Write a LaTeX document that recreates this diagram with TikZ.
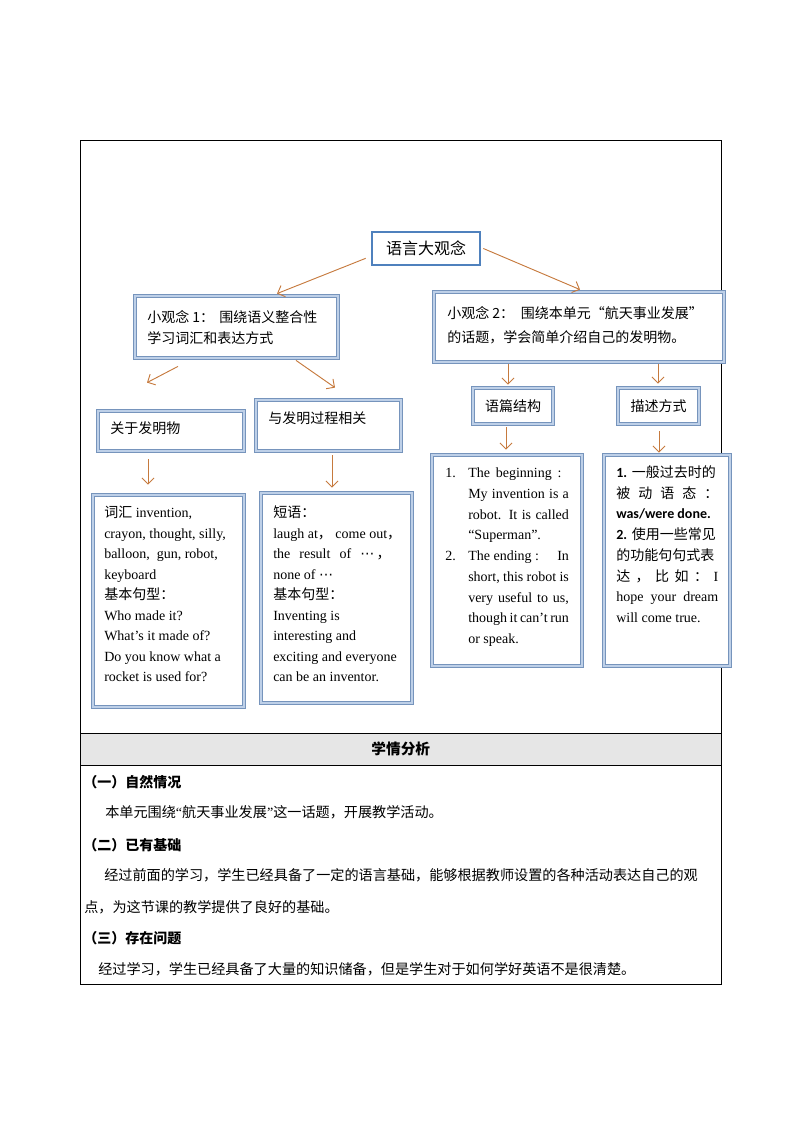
\documentclass[tikz,border=0pt]{standalone}
\usepackage{fontspec}
\setmainfont{Liberation Serif}
\newfontfamily\cjk{Noto Sans CJK SC}
\newfontfamily\calfont{Carlito}
\newfontfamily\djv{DejaVu Sans}
\newcommand\zhc[1]{{\cjk #1}}
\usetikzlibrary{arrows.meta,fit}
\definecolor{arrc}{RGB}{198,122,62}
\definecolor{bbd}{RGB}{118,148,188}
\definecolor{bbi}{RGB}{190,208,232}
\definecolor{tbl}{RGB}{79,129,189}
\definecolor{hdr}{RGB}{230,230,230}
\begin{document}
\begin{tikzpicture}[x=0.75pt,y=-0.75pt,
  dbox/.style={draw=bbd, double=bbi, double distance=1.3pt, line width=0.6pt, fill=white, inner sep=0pt},
  bigbox/.style={draw=tbl, line width=2pt, fill=white, inner sep=0pt},
  arr/.style={draw=arrc, line width=0.7pt, -{Straight Barb[length=4.5pt,width=9pt]}},
  en/.style={font=\fontsize{10.5}{12}\selectfont, anchor=base west, inner sep=0pt},
  zh/.style={font=\fontsize{10.5}{12}\selectfont\cjk, anchor=base west, inner sep=0pt},
  zhc/.style={font=\fontsize{10.5}{12}\selectfont\cjk, anchor=base, inner sep=0pt},
  zhb/.style={font=\fontsize{10.6}{13}\selectfont\cjk, anchor=base west, inner sep=0pt},
  zhh/.style={font=\fontsize{10.5}{12}\selectfont\cjk\bfseries, anchor=base west, inner sep=0pt},
  frame/.style={draw=black, line width=0.75pt}
]
\useasboundingbox (0,0) rectangle (794,1123);
% table frame
\draw[frame] (80,140.5) rectangle (721.5,984);
\node[frame, fill=hdr, fit={(80,733) (721.5,765)}, inner sep=0pt] (hd) {};
\node[zhc, font=\fontsize{11}{13}\selectfont\cjk\bfseries] (hdt) at ([yshift=-4.2pt]hd.center) {学情分析};

% top concept
\node[bigbox, fit={(372,232) (480,265)}] (big) {};
\node[zhc, font=\fontsize{12}{14}\selectfont\cjk] (bigt) at ([yshift=-4.6pt]big.center) {语言大观念};

% sub-concept boxes
\node[dbox, fit={(135,296) (338,358)}] (n1) {};
\node[zh] (n1a) at (147,322) {小观念 1：\hspace{4pt}围绕语义整合性};
\node[zh] (n1b) at (147,343) {学习词汇和表达方式};

\node[dbox, fit={(434,292) (724,362)}] (n2) {};
\node[zh] (n2a) at (447,318) {小观念 2：\hspace{5pt}围绕本单元“航天事业发展”};
\node[zh] (n2b) at (447,342) {的话题，学会简单介绍自己的发明物。};

% second level
\node[dbox, fit={(98,411) (244,451)}] (a1) {};
\node[zh] (a1t) at (110,433) {关于发明物};
\node[dbox, fit={(256,400) (401,451)}] (a2) {};
\node[zh] (a2t) at (268,423) {与发明过程相关};
\node[dbox, fit={(473,388) (553,424)}] (s1) {};
\node[zhc] (s1t) at ([yshift=-4pt]s1.center) {语篇结构};
\node[dbox, fit={(618,388) (699,424)}] (d1) {};
\node[zhc] (d1t) at ([yshift=-4pt]d1.center) {描述方式};

% detail boxes
\node[dbox, fit={(93,495) (244,707)}] (b1) {};
\foreach \txt [count=\i] in {{\zhc{词汇} invention,},{crayon, thought, silly,},{balloon, \ gun, robot,},{keyboard},{\zhc{基本句型：}},{Who made it?},{What’s it made of?},{Do you know what a},{rocket is used for?}}
  \node[en] (b1l\i) at (104,{517.5+20.5*(\i-1)}) {\txt};

\node[dbox, fit={(261,493) (412,703)}] (b2) {};
\foreach \txt [count=\i] in {{\zhc{短语：}},{laugh at\zhc{，} come out\zhc{，}},{\makebox[88pt][s]{the\hfill result\hfill of\hfill {\djv ⋯}\,\zhc{，}}},{none of {\djv ⋯}},{\zhc{基本句型：}},{Inventing is},{interesting and},{exciting and everyone},{can be an inventor.}}
  \node[en] (b2l\i) at (273,{517.5+20.5*(\i-1)}) {\txt};

\node[dbox, fit={(432,455) (582,666)}] (s2) {};
\node[en] (s2n1) at (445,477.5) {1.};
\node[en] (s2n2) at (445,{477.5+20.75*4}) {2.};
\foreach \txt [count=\i] in {{\makebox[70pt][s]{The\hfill beginning\hfill :}},{\makebox[75.5pt][s]{My invention is a}},{\makebox[75.5pt][s]{robot. It is called}},{“Superman”.},{\makebox[75.5pt][s]{The ending :\hfill In}},{\makebox[75.5pt][s]{short, this robot is}},{\makebox[75.5pt][s]{very useful to us,}},{\makebox[75.5pt][s]{though it can’t run}},{or speak.}}
  \node[en] (s2l\i) at (468,{477.5+20.75*(\i-1)}) {\txt};

\node[dbox, fit={(604,455) (730,666)}] (d2) {};
\foreach \txt [count=\i] in {{{\calfont\bfseries 1.} \zhc{一般过去时的}},{\makebox[76.5pt][s]{\zhc{被}\hfill\zhc{动}\hfill\zhc{语}\hfill\zhc{态}\hfill\zhc{：}}},{{\calfont\bfseries was/were done.}},{{\calfont\bfseries 2.} \zhc{使用一些常见}},{\zhc{的功能句句式表}},{\makebox[76.5pt][s]{\zhc{达}\hfill\zhc{，}\hfill\zhc{比}\hfill\zhc{如}\hfill\zhc{：}\hfill I}},{\makebox[76.5pt][s]{hope\hfill your\hfill dream}},{will come true.}}
  \node[en] (d2l\i) at (616,{477.5+20.7*(\i-1)}) {\txt};

% connectors
\draw[arr] ([shift={(-5,-8)}]big.south west) -- ([shift={(40.5,-2)}]n1.north);
\draw[arr] ([shift={(2,0)}]big.east) -- ([shift={(1,-2)}]n2.north);
\draw[arr] ([shift={(-58.5,8)}]n1.south) -- ([shift={(-24,-28)}]a1.north);
\draw[arr] ([shift={(59.5,2)}]n1.south) -- ([shift={(6.5,-12)}]a2.north);
\draw[arr] ([shift={(-71,2)}]n2.south) -- ([shift={(-5,-3)}]s1.north);
\draw[arr] ([shift={(79,2)}]n2.south) -- ([shift={(-0.5,-4)}]d1.north);
\draw[arr] ([shift={(-23,8)}]a1.south) -- ([shift={(-20.5,-10)}]b1.north);
\draw[arr] ([shift={(3.5,4)}]a2.south) -- ([shift={(-4.5,-5)}]b2.north);
\draw[arr] ([shift={(-7,3)}]s1.south) -- ([shift={(-1,-5)}]s2.north);
\draw[arr] ([shift={(0.5,7)}]d1.south) -- ([shift={(-8,-2)}]d2.north);

% learner analysis text
\node[zhh] (h1) at (83,787) {（一）自然情况};
\node[zhb] (p1) at (105,817.5) {本单元围绕{\rmfamily“}航天事业发展{\rmfamily”}这一话题，开展教学活动。};
\node[zhh] (h2) at (83,850) {（二）已有基础};
\node[zhb] (p2) at (104,880.5) {经过前面的学习，学生已经具备了一定的语言基础，能够根据教师设置的各种活动表达自己的观};
\node[zhb] (p2b) at (84,912.5) {点，为这节课的教学提供了良好的基础。};
\node[zhh] (h3) at (83,943) {（三）存在问题};
\node[zhb] (p3) at (98,974.5) {经过学习，学生已经具备了大量的知识储备，但是学生对于如何学好英语不是很清楚。};
\end{tikzpicture}
\end{document}
